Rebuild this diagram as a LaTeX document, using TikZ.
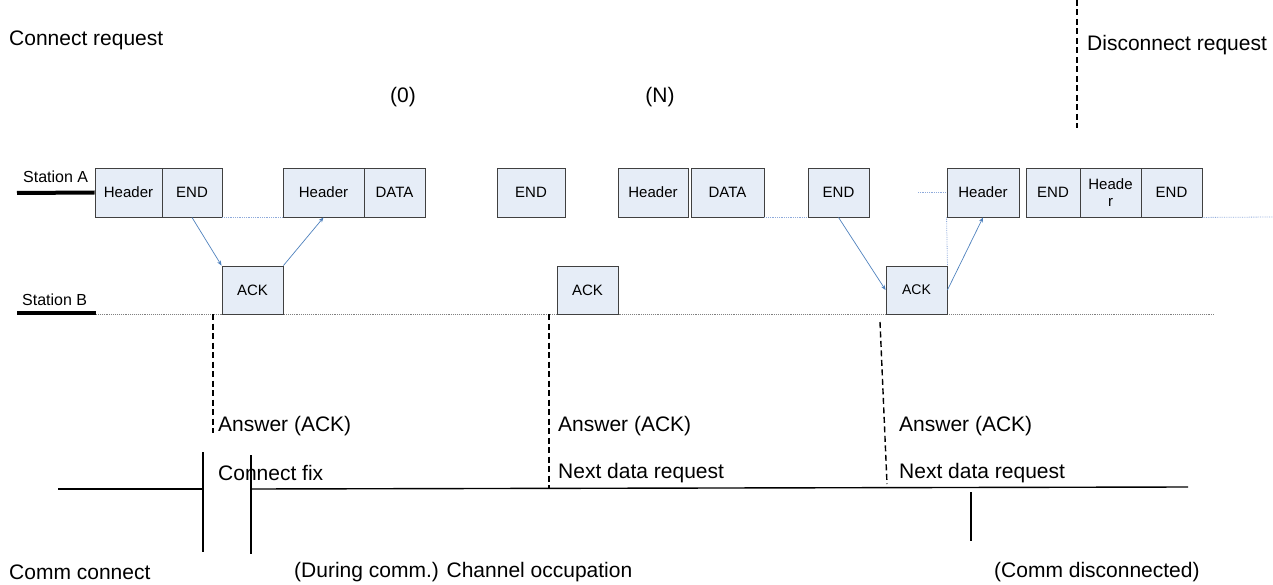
\documentclass[tikz,border=0pt]{standalone}
\usepackage{fontspec}
\setmainfont{Liberation Sans}
\usetikzlibrary{arrows.meta}
\definecolor{boxfill}{HTML}{E6EDF7}
\definecolor{boxline}{HTML}{404040}
\definecolor{arrowblue}{HTML}{4F81BD}
\definecolor{dotblue}{HTML}{8EAADB}
\begin{document}
\begin{tikzpicture}[x=1pt,y=-1pt,
  frame/.style={draw=boxline, fill=boxfill, line width=0.9pt, inner sep=0pt,
    minimum height=49pt, font=\fontsize{15}{16}\selectfont, align=center},
  ackbox/.style={frame, minimum height=48pt, minimum width=61pt},
  biglabel/.style={inner sep=0pt, anchor=west, font=\fontsize{21}{24}\selectfont},
  stlabel/.style={inner sep=0pt, anchor=west, font=\fontsize{16}{18}\selectfont},
  msg/.style={draw=arrowblue, line width=0.7pt, -{Stealth[length=5pt,width=4pt]}},
  bluedot/.style={draw=dotblue, line width=0.8pt, densely dotted},
  graydot/.style={draw=gray, line width=0.9pt, densely dotted},
  vdash/.style={draw=black, line width=1.4pt, dash pattern=on 6pt off 3.5pt},
  thick bar/.style={draw=black, line width=4pt},
  solid rule/.style={draw=black, line width=1.4pt}]
\useasboundingbox (0,0) rectangle (1273,585);

% station B baseline (behind boxes)
\coordinate (bl) at (96,314);
\coordinate (br) at (1215,314);
\draw[graydot] (bl) -- (br);

% station A boxes
\node[frame, minimum width=67pt] (h1) at (128.5,192.5) {Header};
\node[frame, minimum width=60pt] (e1) at (192,192.5) {END};
\node[frame, minimum width=81pt] (h2) at (323.5,192.5) {Header};
\node[frame, minimum width=61pt] (d2) at (394.5,192.5) {DATA};
\node[frame, minimum width=68pt] (e2) at (531,192.5) {END};
\node[frame, minimum width=70pt] (h3) at (653,192.5) {Header};
\node[frame, minimum width=73pt] (d3) at (727.5,192.5) {DATA};
\node[frame, minimum width=61pt] (e3) at (838.5,192.5) {END};
\node[frame, minimum width=72pt] (h4) at (983,192.5) {Header};
\node[frame, minimum width=54pt] (e4) at (1053,192.5) {END};
\node[frame, minimum width=61pt, font=\fontsize{15}{17}\selectfont] (h5) at (1110.5,192.5) {Heade\\r};
\node[frame, minimum width=61pt] (e5) at (1171.5,192.5) {END};

% station B boxes
\node[ackbox] (a1) at (252.5,290) {ACK};
\node[ackbox] (a2) at (587.5,290) {ACK};
\node[ackbox, font=\fontsize{14}{16}\selectfont] (a3) at (916.5,290) {ACK};

% station labels and bars
\node[stlabel] (sa) at (23,177) {Station A};
\node[stlabel] (sb) at (22,300) {Station B};
\coordinate (sal) at (17,193);
\coordinate (sbl) at (17,313);
\coordinate (sbr) at (96,313);
\draw[thick bar] (sal) -- (h1.west);
\draw[thick bar] (sbl) -- (sbr);

% dotted connections on station A
\coordinate (dstart) at (918,192.5);
\coordinate (dend) at (1273,217);
\draw[bluedot] (e1.south east) -- (h2.south west);
\draw[bluedot] (d3.south east) -- (e3.south west);
\draw[bluedot] (dstart) -- (h4.west);
\draw[bluedot] (h4.south west) -- (a3.north east);
\draw[bluedot] (e5.south east) -- (dend);

% message arrows
\draw[msg] (e1.south) -- (a1.north west);
\draw[msg] (a1.north east) -- (h2.south);
\draw[msg] (e3.south) -- (a3.west);
\draw[msg] (a3.east) -- (h4.south);

% top labels
\node[biglabel] (creq) at (9,40) {Connect request};
\node[biglabel] (dreq) at (1087,45) {Disconnect request};
\node[inner sep=0pt, font=\fontsize{21}{24}\selectfont] (z0) at (403,97) {(0)};
\node[inner sep=0pt, font=\fontsize{21}{24}\selectfont] (zn) at (660,97) {(N)};
\coordinate (dt1) at (1077,0);
\coordinate (dt2) at (1077,128);
\draw[vdash] (dt1) -- (dt2);

% vertical dashed lines below station B
\coordinate (v1a) at (213,314);
\coordinate (v1b) at (213,433);
\coordinate (v2a) at (549,314);
\coordinate (v2b) at (549,488);
\coordinate (v3a) at (880,322);
\coordinate (v3b) at (887,484);
\draw[vdash] (v1a) -- (v1b);
\draw[vdash] (v2a) -- (v2b);
\draw[vdash] (v3a) -- (v3b);

% answer labels
\node[biglabel] (ans1) at (218,426) {Answer (ACK)};
\node[biglabel] (ans2) at (558,426) {Answer (ACK)};
\node[biglabel] (ans3) at (899,426) {Answer (ACK)};
\node[biglabel] (cfix) at (218,473) {Connect fix};
\node[biglabel] (ndr1) at (558,473) {Next data request};
\node[biglabel] (ndr2) at (899,473) {Next data request};

% bottom timeline
\coordinate (t1) at (58,489);
\coordinate (t2) at (203,489);
\coordinate (t3) at (251,489);
\coordinate (t4) at (1188,487);
\draw[solid rule] (t1) -- (t2);
\draw[solid rule] (t3) -- (t4);
\coordinate (c1a) at (203,452);
\coordinate (c1b) at (203,552);
\coordinate (c2a) at (251,455);
\coordinate (c2b) at (251,554);
\coordinate (c3a) at (971,492);
\coordinate (c3b) at (971,541);
\draw[solid rule] (c1a) -- (c1b);
\draw[solid rule] (c2a) -- (c2b);
\draw[solid rule] (c3a) -- (c3b);

\node[biglabel] (cc) at (9,572) {Comm connect};
\node[biglabel] (occ) at (294,572) {(During comm.) Channel occupation};
\node[biglabel] (cd) at (994,572) {(Comm disconnected)};
\end{tikzpicture}
\end{document}
